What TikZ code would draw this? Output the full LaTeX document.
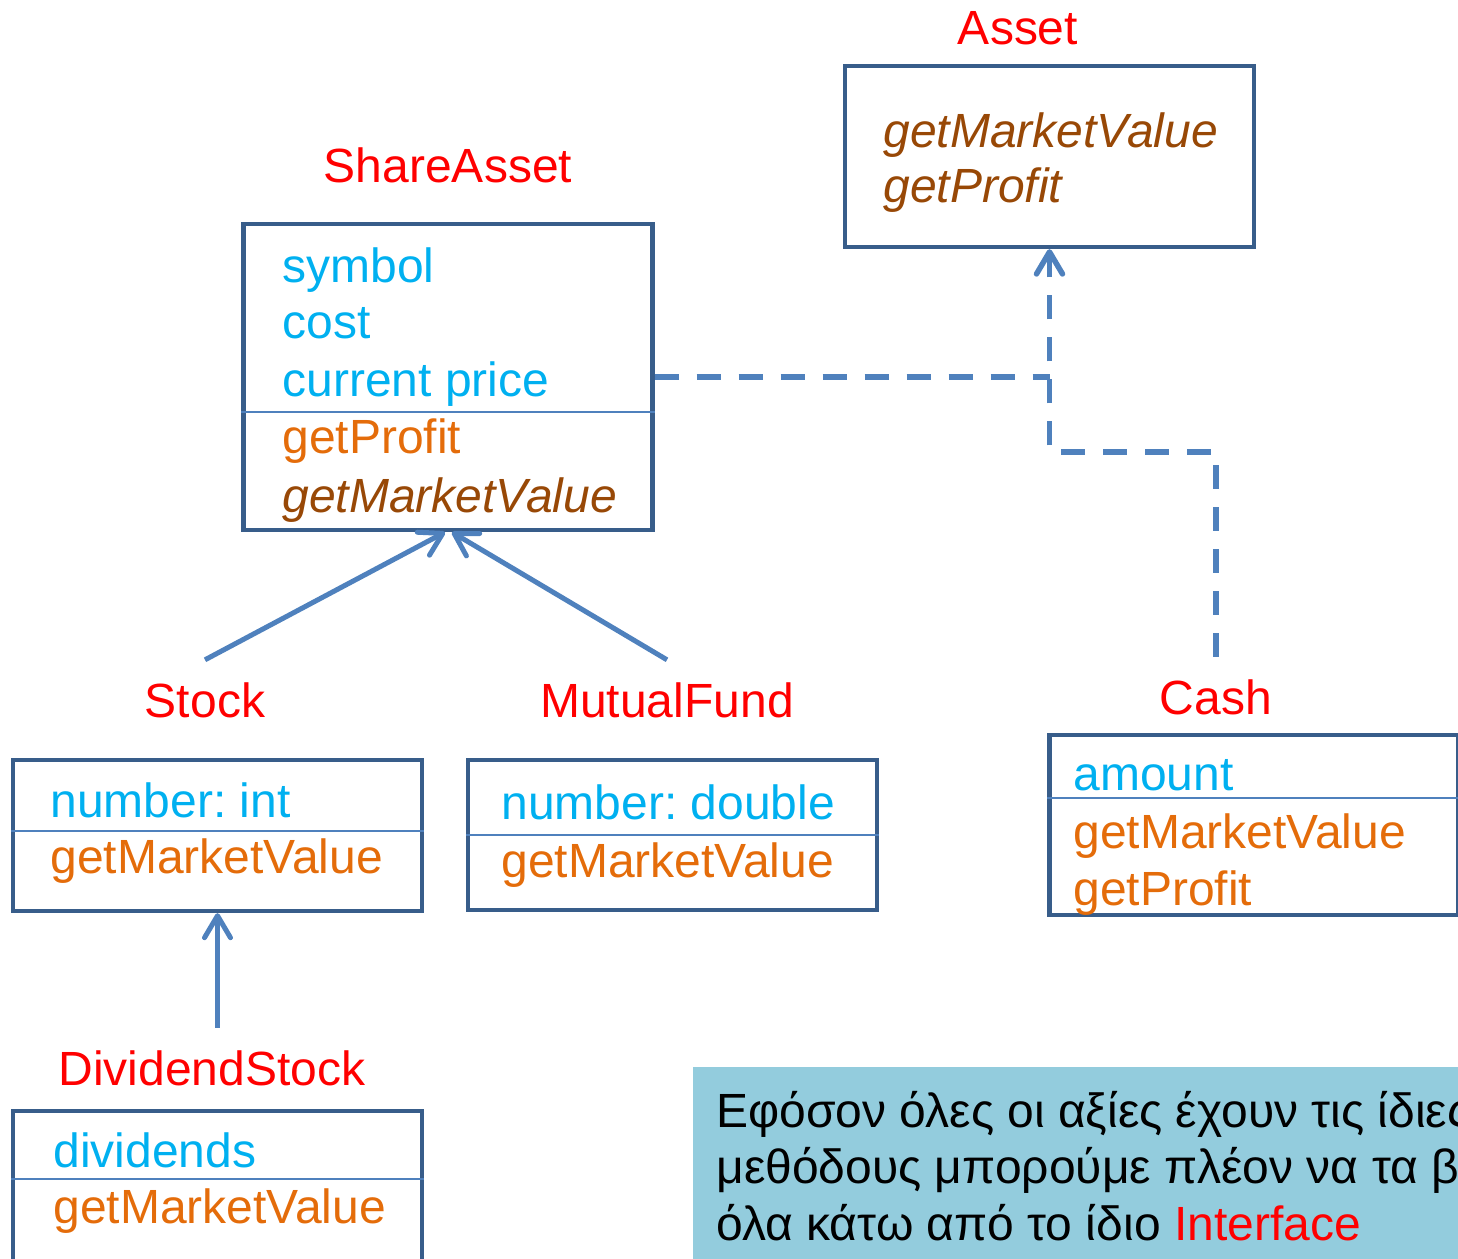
\documentclass[tikz,border=0pt]{standalone}
\usepackage{fontspec}
\setmainfont{Liberation Sans}
\usetikzlibrary{arrows.meta}
\frenchspacing

\definecolor{boxline}{RGB}{56,93,138}
\definecolor{linkblue}{RGB}{79,129,189}
\definecolor{fieldcyan}{RGB}{0,176,240}
\definecolor{methorange}{RGB}{228,108,10}
\definecolor{abstractbrown}{RGB}{152,72,6}
\definecolor{notefill}{RGB}{147,204,221}

\newcommand\umlfont{\fontsize{24}{28}\selectfont}

\begin{document}
\begin{tikzpicture}[x=0.5pt,y=-0.5pt,font=\umlfont,
	classbox/.style={draw=boxline, line width=2.2pt, minimum width=204.5pt, inner sep=0pt},
	classname/.style={text=red, anchor=base, inner sep=11pt},
	member/.style={anchor=base west, inner sep=0pt},
	field/.style={member, text=fieldcyan},
	method/.style={member, text=methorange},
	abstract/.style={member, text=abstractbrown, font=\umlfont\itshape},
	divider/.style={draw=linkblue, line width=0.75pt},
	inherit/.style={draw=linkblue, line width=2.5pt,
		-{Straight Barb[length=11pt,width=13pt,round]}},
	realize/.style={inherit, line width=2.75pt, dash pattern=on 12pt off 9pt}]

	\useasboundingbox (0,0) rectangle (1458,1259);
	\clip (0,0) rectangle (1458,1259);

	% class names
	\node[classname] (assetlbl) at (1018,44) {Asset};
	\node[classname] (sharelbl) at (448,182) {ShareAsset};
	\node[classname] (stocklbl) at (205,717) {Stock};
	\node[classname] (mutuallbl) at (667,717) {MutualFund};
	\node[classname] (cashlbl) at (1216,714) {Cash};
	\node[classname] (divlbl) at (212,1085) {DividendStock};

	% class boxes
	\node[classbox, minimum height=90.5pt] (asset) at (1049.5,156.5) {};
	\node[classbox, minimum height=153pt] (share) at (448,377) {};
	\node[classbox, minimum height=75.5pt] (stockbox) at (217.5,835.5) {};
	\node[classbox, minimum height=75pt] (mutualbox) at (672.5,835) {};
	\node[classbox, minimum height=90pt] (cashbox) at (1254,825) {};
	\node[classbox, minimum height=75.5pt] (divbox) at (217.5,1186.5) {};

	\draw[divider] (share.west |- 0,412) -- (share.east |- 0,412);
	\draw[divider] (stockbox.west |- 0,831) -- (stockbox.east |- 0,831);
	\draw[divider] (mutualbox.west |- 0,835) -- (mutualbox.east |- 0,835);
	\draw[divider] (cashbox.west |- 0,798) -- (cashbox.east |- 0,798);
	\draw[divider] (divbox.west |- 0,1179) -- (divbox.east |- 0,1179);

	% members
	\node[abstract] (assetm1) at (883,147) {getMarketValue};
	\node[abstract] (assetm2) at (883,202) {getProfit};

	\node[field] (sharef1) at (282,282) {symbol};
	\node[field] (sharef2) at (282,338) {cost};
	\node[field] (sharef3) at (282,396) {current price};
	\node[method] (sharem1) at (282,453) {getProfit};
	\node[abstract] (sharem2) at (282,512) {getMarketValue};

	\node[field] (stockf1) at (50,817) {number: int};
	\node[method] (stockm1) at (50,873) {getMarketValue};

	\node[field] (mutualf1) at (501,819) {number: double};
	\node[method] (mutualm1) at (501,877) {getMarketValue};

	\node[field] (cashf1) at (1073,790) {amount};
	\node[method] (cashm1) at (1073,848) {getMarketValue};
	\node[method] (cashm2) at (1073,905) {getProfit};

	\node[field] (divf1) at (53,1167) {dividends};
	\node[method] (divm1) at (53,1223) {getMarketValue};

	% links
	\draw[inherit] (stocklbl.north) -- ([xshift=-1.5pt]share.south);
	\draw[inherit] (mutuallbl.north) -- ([xshift=2pt]share.south);
	\draw[inherit] (divlbl.north -| stockbox.south) -- (stockbox.south);

	\coordinate (elbow) at (1049.5,452);
	\draw[realize] (cashlbl.north) |- (elbow) -- (asset.south);
	\draw[realize, -] (share.east) -- (share.east -| asset.south);

	% note
	\fill[notefill] (693,1067) rectangle (1470,1270);
	\node[member] (note1) at (716,1127) {Εφόσον όλες οι αξίες έχουν τις ίδιες};
	\node[member] (note2) at (716,1183) {μεθόδους μπορούμε πλέον να τα βάλουμε};
	\node[member] (note3) at (716,1240) {όλα κάτω από το ίδιο \textcolor{red}{Interface}};

\end{tikzpicture}
\end{document}
